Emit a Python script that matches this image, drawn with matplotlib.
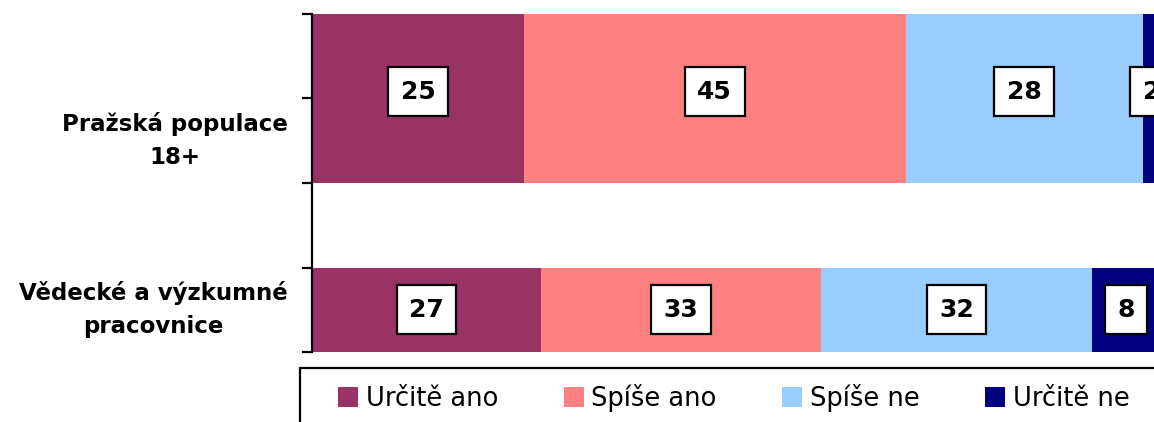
import matplotlib.pyplot as plt
from matplotlib.patches import Rectangle

categories = ["Pražská populace\n18+", "Vědecké a výzkumné\npracovnice"]
series = ["Určitě ano", "Spíše ano", "Spíše ne", "Určitě ne"]
values = [
    [25, 27],   # Určitě ano
    [45, 33],   # Spíše ano
    [28, 32],   # Spíše ne
    [2, 8],     # Určitě ne
]
colors = ["#993366", "#FF8080", "#99CCFF", "#000080"]

# bar geometry on the category axis (top bar is twice as tall as the bottom one)
y_pos = [1.0, 3.5]
heights = [2.0, 1.0]
label_y = [0.92, 3.5]

fig = plt.figure(figsize=(11.54, 4.22), dpi=100)
ax = fig.add_axes([312 / 1154, 1 - 352 / 422, 848 / 1154, 338 / 422])

left = [0, 0]
for name, vals, col in zip(series, values, colors):
    ax.barh(y_pos, vals, height=heights, left=left, color=col, label=name)
    for i, v in enumerate(vals):
        ax.text(left[i] + v / 2, label_y[i], str(v), ha="center", va="center",
                fontsize=18, fontweight="bold", color="black",
                bbox=dict(boxstyle="square,pad=0.5", fc="white", ec="black", lw=1.6))
    left = [l + v for l, v in zip(left, vals)]

ax.set_xlim(0, 100)
ax.set_ylim(4, 0)
ax.set_yticks([0, 1, 2, 3, 4])
ax.set_yticklabels([])
ax.set_xticks([])
for s in ["top", "right", "bottom"]:
    ax.spines[s].set_visible(False)
ax.spines["left"].set_linewidth(1.6)
ax.tick_params(axis="y", direction="out", length=7, width=1.6)

cat_y = [1.5, 3.5]
for cy, cat in zip(cat_y, categories):
    ax.text(-2.9, cy, cat, ha="right", va="center", multialignment="center",
            fontsize=16.5, fontweight="bold", linespacing=1.55)

# legend frame runs off the bottom and right edges, as in the source
fig.patches.append(Rectangle((300 / 1154, -0.1), 0.8, 1 - 368 / 422 + 0.1,
                             transform=fig.transFigure, fill=False,
                             ec="black", lw=1.6))
fig.legend(loc="center left", bbox_to_anchor=(338 / 1154, 1 - 398 / 422),
           ncol=4, frameon=False, fontsize=18.5, handlelength=0.78,
           handleheight=0.78, handletextpad=0.3, columnspacing=2.55,
           borderpad=0, borderaxespad=0)

fig.savefig("out.png", dpi=100)
